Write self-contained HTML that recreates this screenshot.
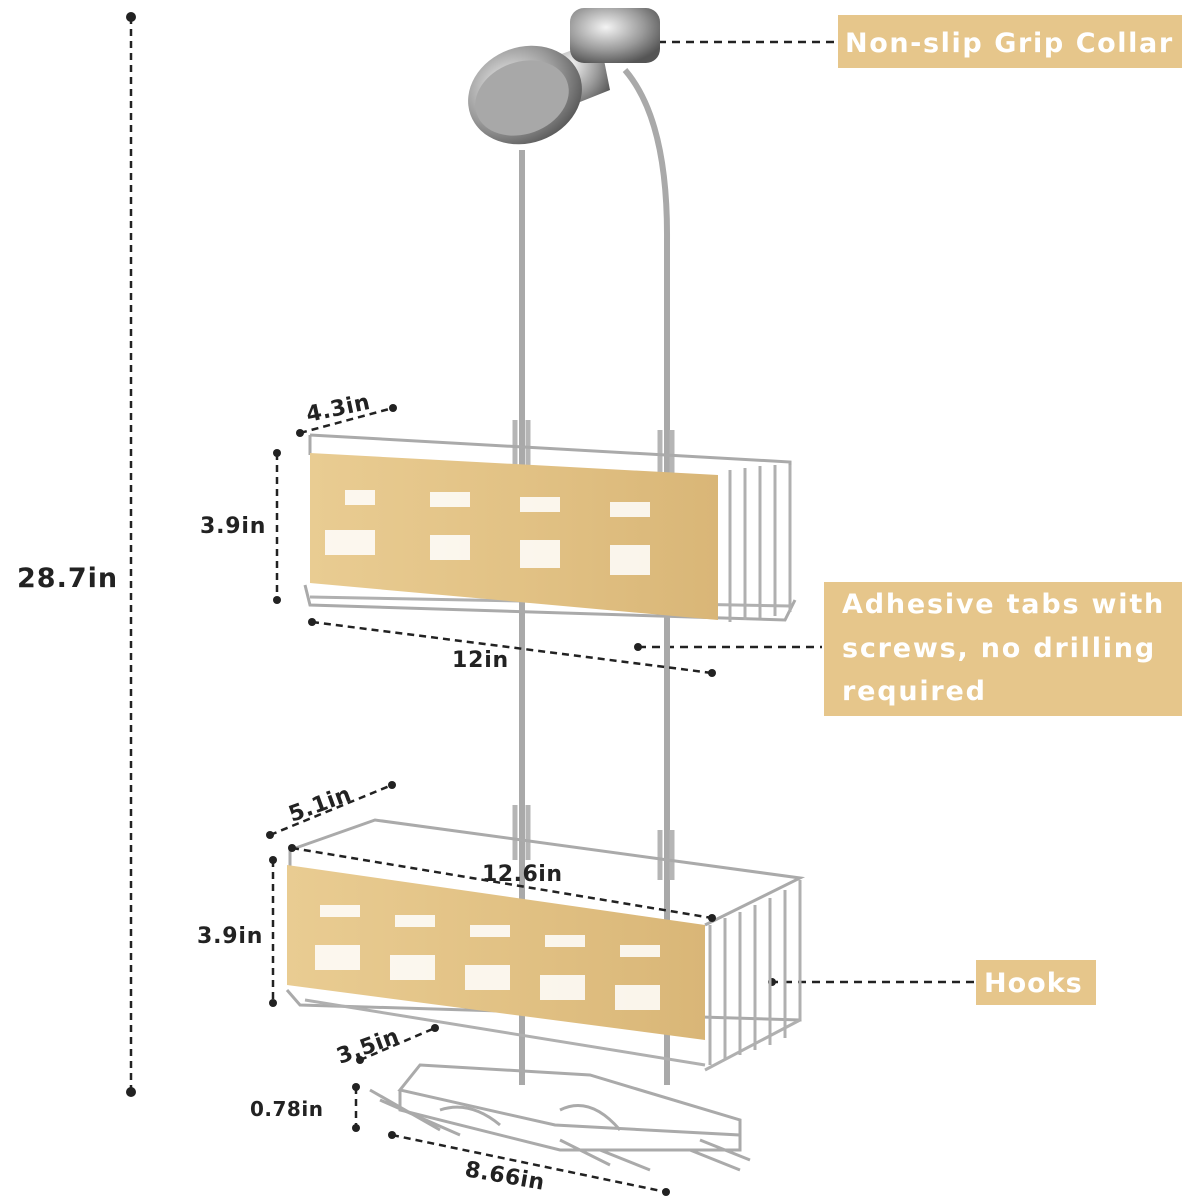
<!DOCTYPE html>
<html><head><meta charset="utf-8"><style>
html,body{margin:0;padding:0;background:#fff}
svg{display:block}
.t{font-family:"DejaVu Sans","Liberation Sans",sans-serif;font-weight:bold;fill:#222}
.w{font-family:"DejaVu Sans","Liberation Sans",sans-serif;font-weight:bold;fill:#fff}
</style></head><body>
<svg width="1200" height="1200" viewBox="0 0 1200 1200" xmlns="http://www.w3.org/2000/svg">
<defs>
<linearGradient id="bam" x1="0" y1="0" x2="1" y2="0">
<stop offset="0" stop-color="#e9cc92"/><stop offset="0.5" stop-color="#e2c285"/><stop offset="1" stop-color="#d9b677"/>
</linearGradient>
<radialGradient id="chrome" cx="0.4" cy="0.35" r="0.7">
<stop offset="0" stop-color="#f4f4f4"/><stop offset="0.6" stop-color="#9a9a9a"/><stop offset="1" stop-color="#555"/>
</radialGradient>
</defs>
<line x1="131" y1="17" x2="131" y2="1092" stroke="#222" stroke-width="2.5" stroke-dasharray="7,5"/>
<circle cx="131" cy="17" r="5" fill="#222"/><circle cx="131" cy="1092" r="5" fill="#222"/>
<rect x="14" y="558" width="114" height="38" fill="#fff"/>
<text class="t" x="17" y="587" font-size="27" letter-spacing="1">28.7in</text>

<rect x="838" y="15" width="344" height="53" fill="#e6c68b"/>
<text class="w" x="845" y="52" font-size="27" letter-spacing="1.6">Non-slip Grip Collar</text>
<line x1="630" y1="42" x2="836" y2="42" stroke="#222" stroke-width="2.5" stroke-dasharray="8,6"/>
<circle cx="632" cy="42" r="4" fill="#222"/>

<rect x="824" y="582" width="358" height="134" fill="#e6c68b"/>
<text class="w" x="842" y="613" font-size="27" letter-spacing="1.8">Adhesive tabs with</text>
<text class="w" x="842" y="657" font-size="27" letter-spacing="1.8">screws, no drilling</text>
<text class="w" x="842" y="700" font-size="27" letter-spacing="1.8">required</text>
<line x1="638" y1="647" x2="822" y2="647" stroke="#222" stroke-width="2.5" stroke-dasharray="8,6"/>
<circle cx="638" cy="647" r="4" fill="#222"/>

<rect x="976" y="960" width="120" height="45" fill="#e6c68b"/>
<text class="w" x="984" y="992" font-size="27" letter-spacing="1">Hooks</text>
<line x1="770" y1="982" x2="974" y2="982" stroke="#222" stroke-width="2.5" stroke-dasharray="8,6"/>
<circle cx="772" cy="982" r="4" fill="#222"/>

<path d="M522 150 L522 1085" stroke="#a9a9a9" stroke-width="6" fill="none"/>
<path d="M625 70 Q668 120 667 240 L667 1085" stroke="#a9a9a9" stroke-width="6" fill="none"/>
<path d="M515 420 L515 470 M528 420 L528 470 M660 430 L660 480 M672 430 L672 480" stroke="#b5b5b5" stroke-width="5"/>
<path d="M515 805 L515 860 M528 805 L528 860 M660 830 L660 880 M672 830 L672 880" stroke="#b5b5b5" stroke-width="5"/>
<path d="M545 60 L600 40 L610 90 L560 110 Z" fill="url(#chrome)"/>
<rect x="570" y="8" width="90" height="55" rx="14" fill="url(#chrome)"/>
<ellipse cx="525" cy="95" rx="58" ry="48" fill="url(#chrome)" transform="rotate(-20 525 95)"/>
<ellipse cx="522" cy="98" rx="48" ry="36" fill="#a8a8a8" transform="rotate(-20 522 98)"/>

<path d="M310 435 L790 462 L790 470 M310 435 L310 455 M305 585 L310 605 L785 620 L795 600" stroke="#aaa" stroke-width="3" fill="none"/>
<g stroke="#b0b0b0" stroke-width="3">
<line x1="730" y1="470" x2="730" y2="622"/><line x1="745" y1="468" x2="745" y2="620"/><line x1="760" y1="466" x2="760" y2="618"/><line x1="775" y1="465" x2="775" y2="616"/><line x1="790" y1="465" x2="790" y2="612"/>
<line x1="310" y1="597" x2="790" y2="606"/></g>
<path d="M310 453 L718 475 L718 620 L310 583 Z" fill="url(#bam)"/>
<g fill="#fff" opacity="0.85">
<path d="M345 490 h30 v15 h-30z M325 530 h50 v25 h-50z M430 492 h40 v15 h-40z M430 535 h40 v25 h-40z M520 497 h40 v15 h-40z M520 540 h40 v28 h-40z M610 502 h40 v15 h-40z M610 545 h40 v30 h-40z"/>
</g>

<path d="M290 850 L375 820 L800 878 L705 925 M290 850 L290 868 M287 990 L300 1005 L800 1020 L800 1000" stroke="#aaa" stroke-width="3" fill="none"/>
<g stroke="#b0b0b0" stroke-width="3">
<line x1="710" y1="925" x2="710" y2="1065"/><line x1="725" y1="918" x2="725" y2="1060"/><line x1="740" y1="912" x2="740" y2="1055"/><line x1="755" y1="905" x2="755" y2="1050"/><line x1="770" y1="898" x2="770" y2="1045"/><line x1="785" y1="890" x2="785" y2="1038"/><line x1="800" y1="880" x2="800" y2="1020"/>
<line x1="305" y1="1000" x2="705" y2="1065"/><line x1="705" y1="1070" x2="800" y2="1020"/></g>
<path d="M287 865 L705 925 L705 1040 L287 985 Z" fill="url(#bam)"/>
<g fill="#fff" opacity="0.85">
<path d="M320 905 h40 v12 h-40z M315 945 h45 v25 h-45z M395 915 h40 v12 h-40z M390 955 h45 v25 h-45z M470 925 h40 v12 h-40z M465 965 h45 v25 h-45z M545 935 h40 v12 h-40z M540 975 h45 v25 h-45z M620 945 h40 v12 h-40z M615 985 h45 v25 h-45z"/>
</g>

<g stroke="#aaa" stroke-width="3" fill="none">
<path d="M420 1065 L590 1075 L740 1120 L740 1135 L555 1125 L400 1090 Z"/>
<path d="M400 1090 L400 1110 L560 1150 L740 1150 L740 1135"/>
<path d="M370 1090 L440 1130 M380 1100 L460 1135 M560 1140 L610 1165 M600 1150 L650 1170 M690 1150 L740 1170 M700 1140 L750 1160"/>
<path d="M440 1110 Q470 1100 500 1125 M560 1110 Q590 1095 620 1130"/>
</g>

<g stroke="#222" stroke-width="2.5" stroke-dasharray="7,5" fill="none">
<line x1="300" y1="433" x2="393" y2="408"/>
<line x1="277" y1="453" x2="277" y2="600"/>
<line x1="312" y1="622" x2="712" y2="673"/>
<line x1="270" y1="835" x2="392" y2="785"/>
<line x1="273" y1="860" x2="273" y2="1003"/>
<line x1="292" y1="848" x2="712" y2="918"/>
<line x1="360" y1="1060" x2="435" y2="1028"/>
<line x1="356" y1="1087" x2="356" y2="1128"/>
<line x1="392" y1="1135" x2="666" y2="1192"/>
</g>
<g fill="#222">
<circle cx="300" cy="433" r="4"/><circle cx="393" cy="408" r="4"/>
<circle cx="277" cy="453" r="4"/><circle cx="277" cy="600" r="4"/>
<circle cx="312" cy="622" r="4"/><circle cx="712" cy="673" r="4"/>
<circle cx="270" cy="835" r="4"/><circle cx="392" cy="785" r="4"/>
<circle cx="273" cy="860" r="4"/><circle cx="273" cy="1003" r="4"/>
<circle cx="292" cy="848" r="4"/><circle cx="712" cy="918" r="4"/>
<circle cx="360" cy="1060" r="4"/><circle cx="435" cy="1028" r="4"/>
<circle cx="356" cy="1087" r="4"/><circle cx="356" cy="1128" r="4"/>
<circle cx="392" cy="1135" r="4"/><circle cx="666" cy="1192" r="4"/>
</g>
<text class="t" font-size="22" letter-spacing="0.5" transform="translate(308 422) rotate(-12)">4.3in</text>
<text class="t" x="200" y="533" font-size="22" letter-spacing="0.8">3.9in</text>
<text class="t" x="452" y="667" font-size="22" letter-spacing="0.8">12in</text>
<text class="t" font-size="22" letter-spacing="0.5" transform="translate(292 822) rotate(-20)">5.1in</text>
<text class="t" x="482" y="881" font-size="22" letter-spacing="0.5">12.6in</text>
<text class="t" x="197" y="943" font-size="22" letter-spacing="0.8">3.9in</text>
<text class="t" font-size="22" letter-spacing="0.5" transform="translate(340 1064) rotate(-20)">3.5in</text>
<text class="t" x="250" y="1116" font-size="20" letter-spacing="0.5">0.78in</text>
<text class="t" font-size="22" letter-spacing="0.5" transform="translate(464 1176) rotate(10)">8.66in</text>
</svg>
</body></html>
